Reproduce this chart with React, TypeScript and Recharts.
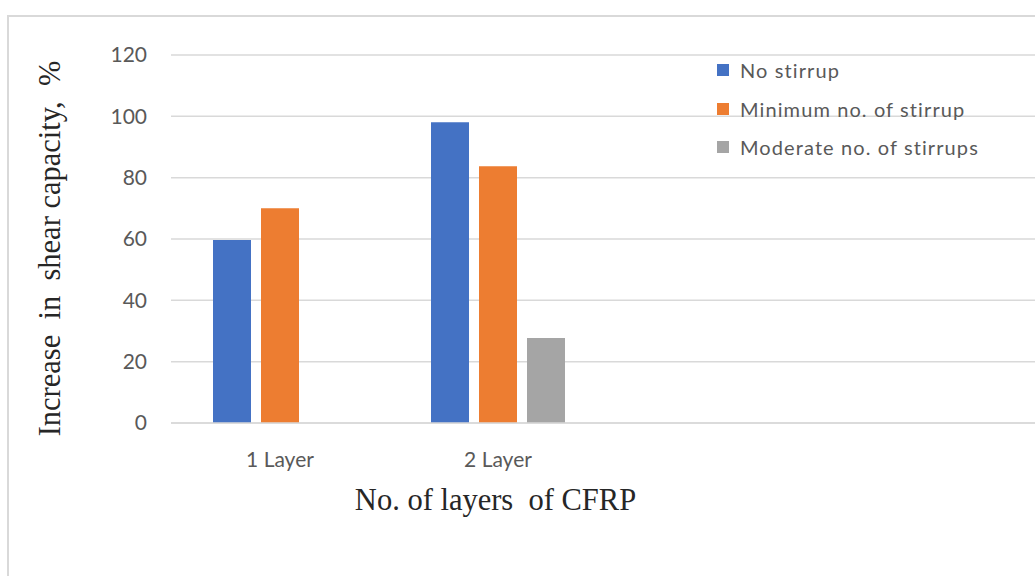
import { BarChart, Bar, XAxis, YAxis, CartesianGrid, Label } from "recharts";

const LAYERS = ["1 Layer", "2 Layer", "", ""];
const NO_STIRRUP = [59.7, 98.1, null, null];
const MIN_STIRRUP = [70, 83.7, null, null];
const MODERATE_STIRRUPS = [null, 27.7, null, null];
const Y_TICKS = [0, 20, 40, 60, 80, 100, 120];

const SERIES = [
  { key: "noStirrup", name: "No stirrup", color: "#4472C4" },
  { key: "minStirrup", name: "Minimum no. of stirrup", color: "#ED7D31" },
  { key: "moderate", name: "Moderate no. of stirrups", color: "#A5A5A5" },
];

const data = LAYERS.map((layer, i) => ({
  layer,
  noStirrup: NO_STIRRUP[i],
  minStirrup: MIN_STIRRUP[i],
  moderate: MODERATE_STIRRUPS[i],
}));

const tickFont = { fill: "#595959", fontSize: 21, fontFamily: "Lato, 'Open Sans', sans-serif" };
const serif = "'Liberation Serif', 'Times New Roman', serif";

function LegendBox() {
  return (
    <div
      style={{
        position: "absolute",
        left: 717,
        top: 51,
        fontFamily: "Lato, sans-serif",
        fontSize: 20,
        color: "#595959",
        letterSpacing: 1.1,
        whiteSpace: "nowrap",
      }}
    >
      {SERIES.map((s) => (
        <div key={s.key} style={{ display: "flex", alignItems: "center", height: 38.5 }}>
          <span style={{ display: "block", width: 12, height: 12, background: s.color, marginRight: 11 }} />
          {s.name}
        </div>
      ))}
    </div>
  );
}

export default function App() {
  return (
    <div
      style={{
        position: "absolute",
        left: 0,
        top: 0,
        width: 1035,
        height: 576,
        overflow: "hidden",
        background: "#fff",
      }}
    >
      <div style={{ position: "absolute", left: 0, top: 0 }}>
        <BarChart
          width={1060}
          height={576}
          data={data}
          margin={{ top: 55, right: 17, bottom: 123, left: 0 }}
          barSize={38}
          barGap={10}
        >
          <CartesianGrid vertical={false} stroke="#d9d9d9" strokeWidth={1.5} />
          <XAxis
            dataKey="layer"
            height={30}
            tick={tickFont}
            tickLine={false}
            tickSize={0}
            tickMargin={29}
            axisLine={{ stroke: "#d9d9d9", strokeWidth: 1.5 }}
            interval={0}
          >
            <Label
              content={() => (
                <text
                  x={495.5}
                  y={510}
                  textAnchor="middle"
                  style={{ whiteSpace: "pre" }}
                  fontFamily={serif}
                  fontSize={30.5}
                  fill="#262626"
                >
                  {"No. of layers  of CFRP"}
                </text>
              )}
            />
          </XAxis>
          <YAxis
            width={171}
            domain={[0, 120]}
            ticks={Y_TICKS}
            tick={tickFont}
            tickLine={false}
            axisLine={false}
            tickSize={0}
            tickMargin={24}
          >
            <Label
              content={() => (
                <text
                  x={60}
                  y={248.5}
                  transform="rotate(-90, 60, 248.5)"
                  textAnchor="middle"
                  style={{ whiteSpace: "pre" }}
                  fontFamily={serif}
                  fontSize={30.5}
                  fill="#262626"
                >
                  {"Increase  in  shear capacity,  %"}
                </text>
              )}
            />
          </YAxis>
          {SERIES.map((s) => (
            <Bar key={s.key} dataKey={s.key} name={s.name} fill={s.color} isAnimationActive={false} />
          ))}
        </BarChart>
      </div>
      <LegendBox />
      <div style={{ position: "absolute", left: 7, top: 15, width: 1100, height: 2, background: "#d9d9d9" }} />
      <div style={{ position: "absolute", left: 7, top: 15, width: 2, height: 700, background: "#d9d9d9" }} />
    </div>
  );
}
